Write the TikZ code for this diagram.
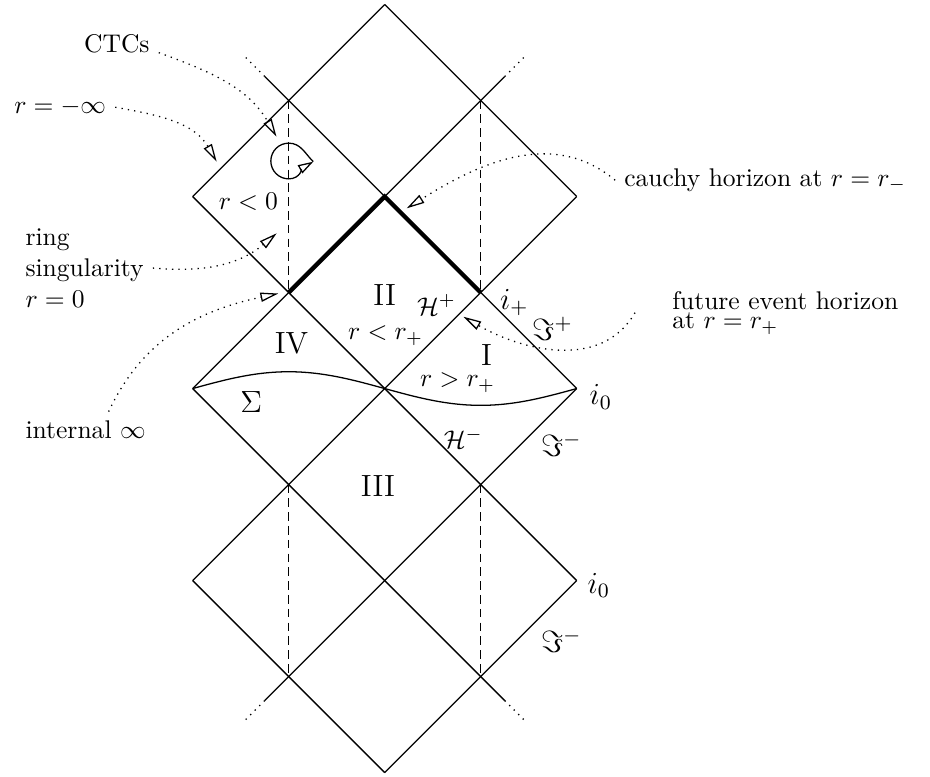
\documentclass[tikz,border=0pt]{standalone}
\usetikzlibrary{arrows.meta}
\begin{document}
\begin{tikzpicture}[x=1.32cm, y=1.32cm, line width=0.5pt,
  horizon/.style={line width=1.7pt, line join=miter},
  axisline/.style={dash pattern=on 3.4pt off 2pt},
  region/.style={font=\large},
  pointer/.style={dotted, -{Triangle[open, length=7pt, width=3.6pt]}}]
  \useasboundingbox (-4.007,-4.036) rectangle (5.680,4.047);
  % null lines (slope +1)
  \draw (-2,2) -- (0,4);
  \draw (-2,0) -- (1.25,3.25);
  \draw (-2,-2) -- (2,2);
  \draw (-1.25,-3.25) -- (2,0);
  \draw (0,-4) -- (2,-2);
  % null lines (slope -1)
  \draw (0,4) -- (2,2);
  \draw (-1.25,3.25) -- (2,0);
  \draw (-2,2) -- (2,-2);
  \draw (-2,0) -- (1.25,-3.25);
  \draw (-2,-2) -- (0,-4);
  % continued
  \draw[dotted] (-1.25,3.25) -- (-1.48,3.48);
  \draw[dotted] (1.25,3.25) -- (1.48,3.48);
  \draw[dotted] (-1.25,-3.25) -- (-1.48,-3.48);
  \draw[dotted] (1.25,-3.25) -- (1.48,-3.48);
  % cauchy horizon
  \draw[horizon] (-1,1) -- (0,2) -- (1,1);
  % ring singularity r=0
  \draw[axisline] (-1,3) -- (-1,1);
  \draw[axisline] (1,3) -- (1,1);
  \draw[axisline] (-1,-1) -- (-1,-3);
  \draw[axisline] (1,-1) -- (1,-3);
  % Cauchy surface
  \draw plot[domain=-2:2, samples=60, smooth] (\x,{-0.175*sin(90*\x)});
  % closed timelike curve
  \coordinate (loop) at (-0.744,2.363);
  \draw[-{Triangle[open, length=6pt, width=3.6pt]}] (loop) to[out=135,in=0] (-1,2.556)
    arc(90:270:0.186) to[out=0,in=-150] (loop);
  % regions
  \node[region] (II) at (0,0.974) {II};
  \node[region] (IV) at (-0.97,0.47) {IV};
  \node[region] (I) at (1.06,0.35) {I};
  \node[region] (III) at (-0.07,-1.02) {III};
  \node (neg) at (-1.42,1.946) {$r<0$};
  \node (inner) at (0.01,0.55) {$r<r_+$};
  \node (outer) at (0.76,0.06) {$r>r_+$};
  \node[region] (Sigma) at (-1.39,-0.137) {$\Sigma$};
  % boundaries
  \node (Hp) at (0.54,0.87) {$\mathcal{H}^+$};
  \node (Hm) at (0.82,-0.52) {$\mathcal{H}^-$};
  \node[region] (ip) at (1.35,0.895) {$i_+$};
  \node[region] (scrip) at (1.75,0.62) {$\Im^+$};
  \node[region] (scrim) at (1.84,-0.59) {$\Im^-$};
  \node[region] (io) at (2.25,-0.085) {$i_0$};
  \node[region] (iolow) at (2.23,-2.05) {$i_0$};
  \node[region] (scrimlow) at (1.84,-2.63) {$\Im^-$};
  % notes
  \node (ctcs) at (-2.79,3.59) {CTCs};
  \node (rinf) at (-3.38,2.93) {$r=-\infty$};
  \node[anchor=west, align=left] (ring) at (-3.836,1.255) {ring\\singularity\\$r=0$};
  \node[anchor=west] (intinf) at (-3.836,-0.43) {internal $\infty$};
  \node[anchor=west] (cauchy) at (2.40,2.17) {cauchy horizon at $r=r_-$};
  \node[anchor=west, align=left] (event) at (2.90,0.79) {future event horizon\\[-4.5pt]at $r=r_+$};
  \coordinate (ctctip) at (-1.127,2.623);
  \coordinate (rinftip) at (-1.75,2.363);
  \coordinate (ringtip) at (-1.125,1.617);
  \coordinate (inftip) at (-1.108,0.99);
  \coordinate (cauchytip) at (0.229,1.877);
  \coordinate (eventtip) at (0.82,0.748);
  \draw[pointer] (ctcs.base east) to[out=-20,in=120] (ctctip);
  \draw[pointer] (rinf.east) to[out=-10,in=120] (rinftip);
  \draw[pointer] (ring.east) to[out=-5,in=-140] (ringtip);
  \draw[pointer] ([xshift=9pt]intinf.north) to[out=65,in=-168] (inftip);
  \draw[pointer] (cauchy.west) to[out=140,in=32] (cauchytip);
  \draw[pointer] ([xshift=-11pt]event.west) to[out=-120,in=-30] (eventtip);
\end{tikzpicture}
\end{document}
